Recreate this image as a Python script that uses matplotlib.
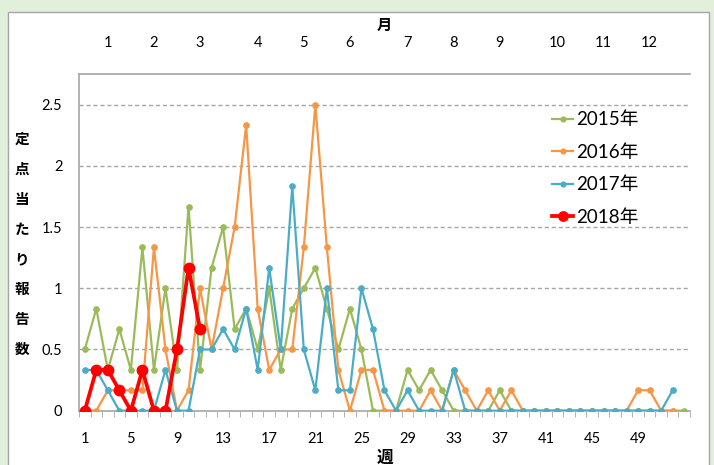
import matplotlib
matplotlib.use("Agg")
import matplotlib.pyplot as plt
from matplotlib.patches import Rectangle

plt.rcParams['font.family'] = ['Lato', 'Noto Sans CJK JP', 'DejaVu Sans']

s = 1 / 6
weeks_2015 = list(range(1, 54))
v2015 = [0.5, 5*s, 2*s, 4*s, 2*s, 8*s, 2*s, 1.0, 2*s, 10*s,
         2*s, 7*s, 1.5, 4*s, 5*s, 0.5, 1.0, 2*s, 5*s, 1.0,
         7*s, 5*s, 0.5, 5*s, 0.5, 0, 0, 0, 2*s, s,
         2*s, s, 0, 0, 0, 0, s, 0, 0, 0,
         0, 0, 0, 0, 0, 0, 0, 0, 0, 0,
         0, 0, 0]
weeks_2016 = list(range(1, 53))
v2016 = [0, 0, s, s, s, s, 8*s, 0.5, 0, s,
         1.0, 0.5, 1.0, 1.5, 14*s, 5*s, 2*s, 0.5, 0.5, 8*s,
         2.5, 8*s, 2*s, 0, 2*s, 2*s, 0, 0, 0, 0,
         s, 0, 2*s, s, 0, s, 0, s, 0, 0,
         0, 0, 0, 0, 0, 0, 0, 0, s, s,
         0, 0]
weeks_2017 = list(range(1, 53))
v2017 = [2*s, 2*s, s, 0, 0, 0, 0, 2*s, 0, 0,
         0.5, 0.5, 4*s, 0.5, 5*s, 2*s, 7*s, 0.5, 11*s, 0.5,
         s, 1.0, s, s, 1.0, 4*s, s, 0, s, 0,
         0, 0, 2*s, 0, 0, 0, 0, 0, 0, 0,
         0, 0, 0, 0, 0, 0, 0, 0, 0, 0,
         0, s]
weeks_2018 = list(range(1, 12))
v2018 = [0, 2*s, 2*s, s, 0, 2*s, 0, 0, 0.5, 7*s, 4*s]

series_labels = ['2015年', '2016年', '2017年', '2018年']
week_ticks = list(range(1, 53, 4))
month_labels = ['1', '2', '3', '4', '5', '6', '7', '8', '9', '10', '11', '12']
month_pos = [3, 7, 11, 16, 20, 24, 29, 33, 37, 42, 46, 50]
ylabel_chars = list('定点当たり報告数')
y_ticks = [0, 0.5, 1, 1.5, 2, 2.5]

W, H = 714, 465
fig = plt.figure(figsize=(W / 100, H / 100), dpi=100)
fig.patch.set_facecolor('#e2efda')
panel = Rectangle((8 / W, -0.05), (709 - 8) / W, (H - 12) / H + 0.05,
                  transform=fig.transFigure, facecolor='white',
                  edgecolor='#a6a6a6', lw=1, zorder=-10)
fig.patches.append(panel)

ax = fig.add_axes([79 / W, (H - 410.7) / H, (690 - 79) / W, (410.7 - 74) / H])
ax.set_facecolor('none')
ax.set_xlim(0.5, 53.5)
ax.set_ylim(0, 2.75)

for yv in y_ticks[1:]:
    ax.axhline(yv, color='#a6a6a6', lw=1, ls=(0, (3, 2)), zorder=1)

ax.plot(weeks_2015, v2015, color='#9bbb59', lw=1.6, marker='o', ms=3.8, zorder=3, label=series_labels[0])
ax.plot(weeks_2016, v2016, color='#f79646', lw=1.6, marker='o', ms=3.8, zorder=3, label=series_labels[1])
ax.plot(weeks_2017, v2017, color='#4bacc6', lw=1.6, marker='o', ms=3.8, zorder=3, label=series_labels[2])
ax.plot(weeks_2018, v2018, color='#ff0000', lw=2.7, marker='o', ms=7.5, zorder=4, label=series_labels[3])

for sp in ['left', 'bottom', 'top']:
    ax.spines[sp].set_color('#a6a6a6')
    ax.spines[sp].set_linewidth(1.2)
ax.spines['right'].set_visible(False)

ax.set_yticks(y_ticks)
ax.set_yticklabels(['0', '0.5', '1', '1.5', '2', '2.5'])
ax.tick_params(axis='y', length=0, pad=12, labelsize=10.5)

ax.set_xticks(week_ticks)
ax.set_xticklabels([str(w) for w in week_ticks])
ax.set_xticks([w + 0.5 for w in range(0, 54)], minor=True)
ax.tick_params(axis='x', which='major', length=0, pad=15, labelsize=10.5)
ax.tick_params(axis='x', which='minor', length=4, color='#a6a6a6', direction='out')
ax.set_xlabel('週', fontsize=12, fontweight='bold', labelpad=3)

top = ax.secondary_xaxis('top')
top.set_xticks(month_pos)
top.set_xticklabels(month_labels)
top.tick_params(length=0, pad=17, labelsize=10.5)
top.spines['top'].set_visible(False)
top.set_xlabel('月', fontsize=11, fontweight='bold', labelpad=5)

for i, ch in enumerate(ylabel_chars):
    fig.text(22 / W, 1 - (140 + i * 30) / H, ch, fontsize=10.5, fontweight='bold',
             ha='center', va='center')

leg = ax.legend(loc='upper left', bbox_to_anchor=((545 - 79) / (690 - 79), (410.7 - 104) / (410.7 - 74)),
                frameon=False, fontsize=13.5, handlelength=1.1, handletextpad=0.15,
                labelspacing=0.82, borderaxespad=0)
for h in leg.legend_handles:
    h.set_markersize(h.get_markersize() * 0.9)

fig.savefig('out.png', dpi=100, facecolor=fig.get_facecolor())
